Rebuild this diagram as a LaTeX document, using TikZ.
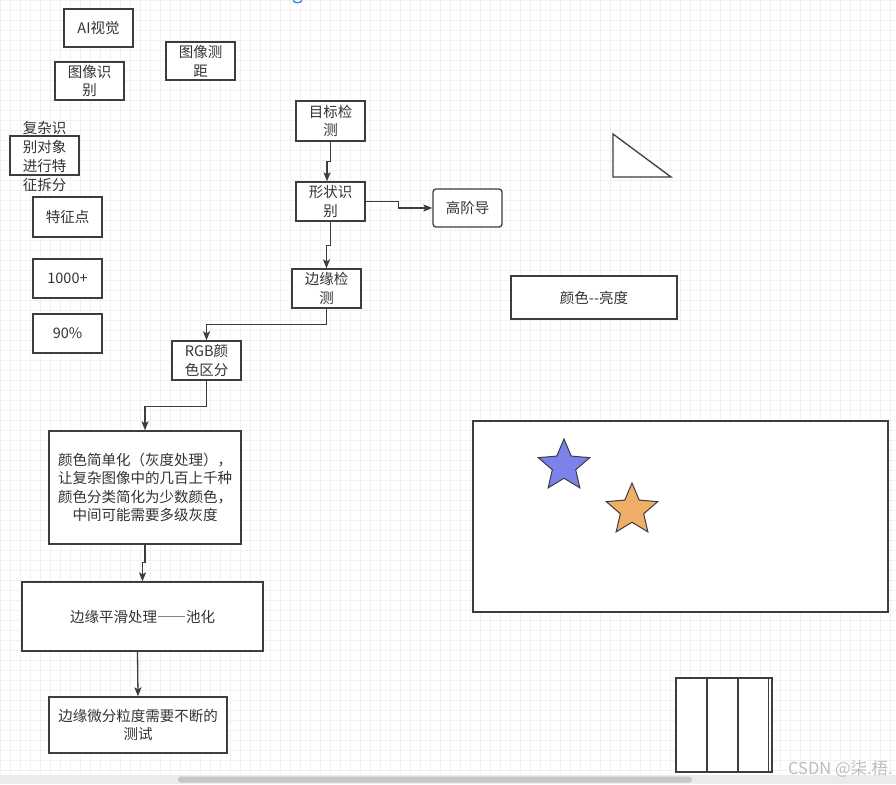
\documentclass[tikz,border=0pt]{standalone}
\usepackage{fontspec}
\setmainfont{Noto Sans CJK SC}
\newfontfamily\fwfont[RawFeature=+fwid]{Noto Sans CJK SC}
\usetikzlibrary{arrows.meta,shapes.geometric}
\definecolor{lc}{HTML}{3A3D41}
\definecolor{tc}{HTML}{333333}
\definecolor{gridc}{HTML}{F1F1F1}
\definecolor{starblue}{HTML}{7B83EB}
\definecolor{starorange}{HTML}{F0AE68}
\definecolor{trackc}{HTML}{EBEBEB}
\definecolor{thumbc}{HTML}{C6C6C6}
\definecolor{wmc}{HTML}{BDBDBD}
\definecolor{markblue}{HTML}{2E7BEA}
\tikzset{
  box/.style={draw=lc, line width=1.3pt, fill=white, inner sep=0pt, align=center,
    text=tc, font=\fontsize{14.5}{18.5}\selectfont},
  txt/.style={inner sep=0pt, align=center, text=tc, font=\fontsize{14.5}{19}\selectfont},
  conn/.style={draw=lc, line width=1.3pt, -{Stealth[length=9pt,width=7pt,inset=2pt]}},
  shp/.style={draw=lc, line width=1.3pt, fill=white},
  starshape/.style={star, star points=5, star point ratio=2.2, minimum size=54pt,
    inner sep=0pt, draw=lc, line width=1pt}
}
\begin{document}
\begin{tikzpicture}[x=1pt,y=-1pt]
\useasboundingbox (0,0) rectangle (896,784);
\fill[white] (0,0) rectangle (896,784);
% background grid
\foreach \i in {0,10,...,890} \draw[gridc, line width=0.6pt] (\i,0) -- (\i,774);
\foreach \j in {0,10,...,770} \draw[gridc, line width=0.6pt] (0,\j) -- (896,\j);
% small blue mark at top
\draw[markblue, line width=1.3pt] (293,0.5) .. controls (295,3.5) and (300,3.5) .. (302,0.5);

% left column
\node[box, minimum width=69pt, minimum height=38pt] (ai) at (98.5,28) {AI视觉};
\node[box, minimum width=69pt, minimum height=38pt] (dist) at (200.5,61) {图像测\\距};
\node[box, minimum width=69pt, minimum height=38pt] (recog) at (89.5,81) {图像识\\别};
\node[box, minimum width=69pt, minimum height=39pt] (cplx) at (44.5,155.5) {};
\node[txt] (cplxt) at (44.5,156.5) {复杂识\\别对象\\进行特\\征拆分};
\node[box, minimum width=69pt, minimum height=40pt] (feat) at (67.5,217) {特征点};
\node[box, minimum width=69pt, minimum height=39pt] (k1000) at (67.5,278.5) {1000+};
\node[box, minimum width=69pt, minimum height=39pt] (p90) at (67.5,333.5) {90\%};

% flow
\node[box, minimum width=69pt, minimum height=40pt] (det) at (330.5,121) {目标检\\测};
\node[box, minimum width=69pt, minimum height=39pt] (shape) at (330.5,201.5) {形状识\\别};
\node[box, rounded corners=3pt, minimum width=69pt, minimum height=38pt] (hi) at (467.5,208) {高阶导};
\node[box, minimum width=69pt, minimum height=39pt] (edge) at (326.5,288.5) {边缘检\\测};
\node[box, minimum width=69pt, minimum height=39pt] (rgb) at (206.5,360.5) {RGB颜\\色区分};
\node[box, minimum width=192pt, minimum height=113pt] (gray) at (145,487.5)
  {颜色简单化（灰度处理），\\让复杂图像中的几百上千种\\颜色分类简化为少数颜色，\\中间可能需要多级灰度};
\node[box, minimum width=241pt, minimum height=69pt] (pool) at (142.5,616.5) {边缘平滑处理{\fwfont ——}池化};
\node[box, minimum width=178pt, minimum height=56pt] (test) at (138,725) {边缘微分粒度需要不断的\\测试};

\draw[conn] (det.south) -- ++(0,20) -| ([xshift=-3.5pt]shape.north);
\draw[conn] (shape.east) -- ++(33,0) |- (hi.west);
\draw[conn] (shape.south) -- ++(0,24) -| (edge.north);
\draw[conn] (edge.south) -- ++(0,16) -| (rgb.north);
\draw[conn] (rgb.south) -- ++(0,26) -| (gray.north);
\draw[conn] (gray.south) -- ++(0,18) -| (pool.north);
\draw[conn] ([xshift=-5pt]pool.south) -- (test.north);

% right side
\node[box, minimum width=166pt, minimum height=43pt] (bright) at (594,297.5) {颜色-{}-亮度};
\draw[shp] (613,134) -- (613,177) -- (671,177) -- cycle;
\node[box, minimum width=415pt, minimum height=191pt] (canvas) at (680.5,516.5) {};
\node[starshape, fill=starblue] (bstar) at (564,466) {};
\node[starshape, fill=starorange] (ostar) at (632,510) {};

% stacked columns bottom right
\node[box, minimum width=96pt, minimum height=94pt] (cols) at (724,725) {};
\draw[lc, line width=1.5pt] (707,678) -- (707,772);
\draw[lc, line width=1.5pt] (738,678) -- (738,772);
\draw[lc, line width=0.9pt] (768,678) -- (768,772);

% scrollbar
\fill[trackc] (0,775) rectangle (896,784);
\fill[thumbc, rounded corners=3pt] (178,776.5) rectangle (692,782.5);

% watermark
\node[inner sep=0pt, anchor=east, text=wmc, font=\fontsize{16.5}{16.5}\selectfont] (wm) at (893,768.5) {CSDN @柒.梧.};
\end{tikzpicture}
\end{document}
